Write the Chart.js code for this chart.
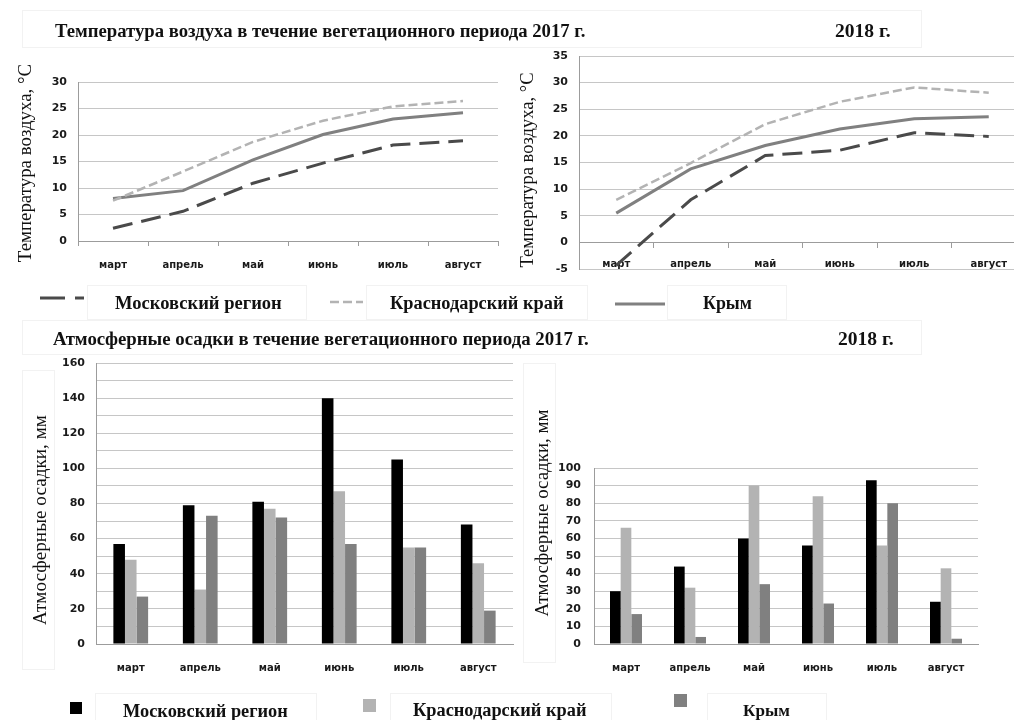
<!DOCTYPE html>
<html><head><meta charset="utf-8">
<script src="https://cdn.jsdelivr.net/npm/chart.js@4/dist/chart.umd.min.js"></script>
<style>
html,body{margin:0;padding:0;background:#fff;overflow:hidden;}
#wrap{position:relative;width:1014px;height:720px;overflow:hidden;background:#fff;}
canvas{position:absolute;}
.t{position:absolute;white-space:nowrap;font-family:'Liberation Serif','Times New Roman',serif;color:#111;line-height:1;font-size:16px;}
.b{font-weight:bold;}
.r{transform:translate(-50%,-50%) rotate(-90deg);}
.box{position:absolute;border:1px solid #f2f2f2;box-sizing:border-box;}
svg{position:absolute;left:0;top:0;}
</style></head><body>
<div id="wrap">
  <div class="box" style="left:22px;top:10px;width:900px;height:38px"></div>
  <div class="box" style="left:22px;top:320px;width:900px;height:35px"></div>
  <div class="box" style="left:87px;top:285px;width:220px;height:35px"></div>
  <div class="box" style="left:366px;top:285px;width:222px;height:35px"></div>
  <div class="box" style="left:667px;top:285px;width:120px;height:35px"></div>
  <div class="box" style="left:95px;top:693px;width:222px;height:30px"></div>
  <div class="box" style="left:390px;top:693px;width:222px;height:30px"></div>
  <div class="box" style="left:707px;top:693px;width:120px;height:30px"></div>
  <div class="box" style="left:22px;top:370px;width:33px;height:300px"></div>
  <div class="box" style="left:523px;top:363px;width:33px;height:300px"></div>

  <canvas id="c1" width="498" height="210" style="left:10px;top:70px"></canvas>
  <canvas id="c2" width="514" height="246" style="left:512px;top:44px"></canvas>
  <canvas id="c3" width="500" height="340" style="left:20px;top:350px"></canvas>
  <canvas id="c4" width="470" height="234" style="left:520px;top:456px"></canvas>

  <svg width="1014" height="720">
    <line x1="40" y1="298" x2="84" y2="298" stroke="#4a4a4a" stroke-width="3" stroke-dasharray="25 10"/>
    <line x1="330" y1="302" x2="363" y2="302" stroke="#b3b3b3" stroke-width="2.5" stroke-dasharray="9 4"/>
    <line x1="615" y1="304" x2="665" y2="304" stroke="#808080" stroke-width="3"/>
    <rect x="70" y="702" width="12" height="12" fill="#000"/>
    <rect x="363" y="699" width="13" height="13" fill="#b3b3b3"/>
    <rect x="674" y="694" width="13" height="13" fill="#808080"/>
  </svg>

  <div class="t b" data-x="55" data-cy="31" data-w="531">Температура воздуха в течение вегетационного периода 2017 г.</div>
  <div class="t b" data-x="835" data-cy="31" data-w="55">2018 г.</div>
  <div class="t b" data-x="53" data-cy="339" data-w="536">Атмосферные осадки в течение вегетационного периода 2017 г.</div>
  <div class="t b" data-x="838" data-cy="339" data-w="55">2018 г.</div>

  <div class="t r" data-cx="25" data-cy="163" data-w="198">Температура воздуха, °С</div>
  <div class="t r" data-cx="527" data-cy="170" data-w="195">Температура воздуха, °С</div>
  <div class="t r" data-cx="40" data-cy="520" data-w="210">Атмосферные осадки, мм</div>
  <div class="t r" data-cx="542" data-cy="513" data-w="207">Атмосферные осадки, мм</div>

  <div class="t b" data-x="115" data-cy="303" data-w="167">Московский регион</div>
  <div class="t b" data-x="390" data-cy="303" data-w="173">Краснодарский край</div>
  <div class="t b" data-x="703" data-cy="304" data-w="49">Крым</div>
  <div class="t b" data-x="123" data-cy="711" data-w="165">Московский регион</div>
  <div class="t b" data-x="413" data-cy="710" data-w="173">Краснодарский край</div>
  <div class="t b" data-x="743" data-cy="710" data-w="47">Крым</div>
</div>
<script>
const months = ['март','апрель','май','июнь','июль','август'];
const seriesNames = ['Московский регион','Краснодарский край','Крым'];

const temp2017Moscow    = [2.4, 5.6, 10.9, 14.7, 18.1, 18.9];
const temp2017Krasnodar = [7.6, 13.1, 18.7, 22.7, 25.4, 26.4];
const temp2017Crimea    = [8.0, 9.5, 15.3, 20.1, 23.0, 24.2];

const temp2018Moscow    = [-4.3, 8.0, 16.3, 17.3, 20.6, 19.9];
const temp2018Krasnodar = [8.0, 14.9, 22.2, 26.4, 29.1, 28.1];
const temp2018Crimea    = [5.5, 13.8, 18.2, 21.3, 23.2, 23.6];

const rain2017Moscow    = [57, 79, 81, 140, 105, 68];
const rain2017Krasnodar = [48, 31, 77, 87, 55, 46];
const rain2017Crimea    = [27, 73, 72, 57, 55, 19];

const rain2018Moscow    = [30, 44, 60, 56, 93, 24];
const rain2018Krasnodar = [66, 32, 90, 84, 56, 43];
const rain2018Crimea    = [17, 4, 34, 23, 80, 3];

const GRID = '#c6c6c6', AXIS = '#9c9c9c', TXT = '#1a1a1a';
const valFont = {family:'DejaVu Sans', weight:'bold', size:11};
const catFont = {family:'DejaVu Sans', weight:'bold', size:10};
const base = {responsive:false, animation:false, plugins:{legend:{display:false}, tooltip:{enabled:false}}};

function fixW(w){ return s=>{ s.width=w; s.paddingTop=0; s.paddingBottom=0; }; }
function fixH(h){ return s=>{ s.height=h; s.paddingLeft=0; s.paddingRight=0; }; }

function lineSets(m,k,c){
  return [
    {label:seriesNames[0], data:m, borderColor:'#4a4a4a', borderDash:[20,9], borderWidth:3, pointRadius:0, tension:0, fill:false},
    {label:seriesNames[1], data:k, borderColor:'#b3b3b3', borderDash:[9,4], borderWidth:2.5, pointRadius:0, tension:0, fill:false},
    {label:seriesNames[2], data:c, borderColor:'#808080', borderWidth:3, pointRadius:0, tension:0, fill:false}
  ];
}
function barSets(m,k,c){
  return [
    {label:seriesNames[0], data:m, backgroundColor:'#000000'},
    {label:seriesNames[1], data:k, backgroundColor:'#b3b3b3'},
    {label:seriesNames[2], data:c, backgroundColor:'#808080'}
  ];
}

new Chart(document.getElementById('c1'), {
  type:'line',
  data:{labels:months, datasets:lineSets(temp2017Moscow,temp2017Krasnodar,temp2017Crimea)},
  options:Object.assign({}, base, {
    layout:{padding:{top:12,right:10,left:0,bottom:0}, autoPadding:false},
    scales:{
      x:{offset:true, grid:{drawOnChartArea:false, drawTicks:true, tickLength:5, offset:true, color:AXIS}, border:{color:AXIS},
         ticks:{font:catFont, color:TXT, padding:13, maxRotation:0, autoSkip:false}, afterFit:fixH(39)},
      y:{min:0, max:30, ticks:{stepSize:5, font:valFont, color:TXT, padding:11}, grid:{color:GRID, drawTicks:false}, border:{color:AXIS},
         afterFit:fixW(68)}
    }
  })
});

new Chart(document.getElementById('c2'), {
  type:'line',
  data:{labels:months, datasets:lineSets(temp2018Moscow,temp2018Krasnodar,temp2018Crimea)},
  options:Object.assign({}, base, {
    layout:{padding:{top:12,right:0,left:0,bottom:21}, autoPadding:false},
    scales:{
      x:{position:{y:0}, offset:true, grid:{drawOnChartArea:false, drawTicks:true, tickLength:5, offset:true, color:AXIS}, border:{color:AXIS},
         ticks:{font:catFont, color:TXT, padding:11, maxRotation:0, autoSkip:false}, afterFit:fixH(0)},
      y:{min:-5, max:35, ticks:{stepSize:5, font:valFont, color:TXT, padding:11}, grid:{color:GRID, drawTicks:false}, border:{color:AXIS},
         afterFit:fixW(67)}
    }
  })
});

new Chart(document.getElementById('c3'), {
  type:'bar',
  data:{labels:months, datasets:barSets(rain2017Moscow,rain2017Krasnodar,rain2017Crimea)},
  options:Object.assign({}, base, {
    datasets:{bar:{categoryPercentage:0.5, barPercentage:1.0}},
    layout:{padding:{top:13,right:7,left:0,bottom:0}, autoPadding:false},
    scales:{
      x:{grid:{drawOnChartArea:false, drawTicks:false}, border:{color:AXIS},
         ticks:{font:catFont, color:TXT, padding:18, maxRotation:0, autoSkip:false}, afterFit:fixH(46)},
      y:{min:0, max:160, ticks:{stepSize:10, font:valFont, color:TXT, padding:11, callback:v=> (v%20===0 ? v : '')},
         grid:{color:GRID, drawTicks:false}, border:{color:AXIS}, afterFit:fixW(76)}
    }
  })
});

new Chart(document.getElementById('c4'), {
  type:'bar',
  data:{labels:months, datasets:barSets(rain2018Moscow,rain2018Krasnodar,rain2018Crimea)},
  options:Object.assign({}, base, {
    datasets:{bar:{categoryPercentage:0.5, barPercentage:1.0}},
    layout:{padding:{top:12,right:12,left:0,bottom:0}, autoPadding:false},
    scales:{
      x:{grid:{drawOnChartArea:false, drawTicks:false}, border:{color:AXIS},
         ticks:{font:catFont, color:TXT, padding:18, maxRotation:0, autoSkip:false}, afterFit:fixH(46)},
      y:{min:0, max:100, ticks:{stepSize:10, font:valFont, color:TXT, padding:13},
         grid:{color:GRID, drawTicks:false}, border:{color:AXIS}, afterFit:fixW(74)}
    }
  })
});

// fit HTML texts to their measured widths and positions
document.querySelectorAll('.t').forEach(el=>{
  const target = +el.dataset.w;
  let fs = 16;
  el.style.fontSize = fs + 'px';
  const w0 = el.offsetWidth;
  fs = fs * target / w0;
  el.style.fontSize = fs.toFixed(2) + 'px';
  const cy = +el.dataset.cy;
  if (el.classList.contains('r')) {
    el.style.left = el.dataset.cx + 'px';
    el.style.top = cy + 'px';
  } else {
    el.style.left = el.dataset.x + 'px';
    el.style.top = (cy - el.offsetHeight/2) + 'px';
  }
});
</script>
</body></html>
